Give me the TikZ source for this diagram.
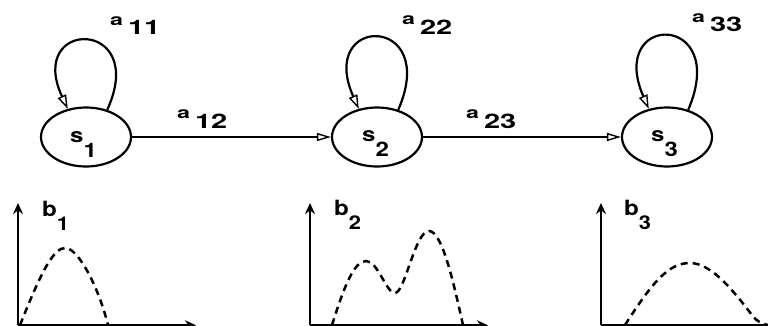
\documentclass[tikz,border=0pt]{standalone}
\usepackage{fontspec}
\setmainfont{TeX Gyre Heros}
\usetikzlibrary{shapes.geometric,arrows.meta}
\newcommand\lbl[7]{\bfseries\scalebox{#6}[1]{\fontsize{#3}{#3}\selectfont #1}\hspace{#7}\raisebox{-#5}{\scalebox{#6}[1]{\fontsize{#4}{#4}\selectfont #2}}}
\newcommand\alab[1]{\lbl{a}{#1}{16}{20}{10pt}{1.45}{5pt}}
\newcommand\slab[1]{\lbl{s}{#1}{20}{20}{15pt}{1.2}{0pt}}
\newcommand\blab[1]{\lbl{b}{#1}{21}{19}{14pt}{1.15}{0pt}}
\tikzset{
  statebox/.style={ellipse, draw, line width=2.2pt, minimum width=90pt, minimum height=59pt, inner sep=0pt},
  txt/.style={anchor=base west, inner sep=0pt},
  trans/.style={line width=1.2pt, -{Triangle[open, length=14pt, width=8pt, line width=1.4pt]}},
  selfloop/.style={line width=2.2pt, -{Triangle[open, length=14pt, width=9pt, line width=1.4pt]}},
  axis/.style={line width=2.2pt, -{Stealth[length=11pt, width=10pt]}},
  density/.style={line width=2.5pt, dash pattern=on 7pt off 5pt}
}
\begin{document}
\begin{tikzpicture}[x=1pt,y=1pt]
\useasboundingbox (0,0) rectangle (768,325);
% states
\node[statebox] (s1) at (86,188) {};
\node[statebox] (s2) at (377,188) {};
\node[statebox] (s3) at (667,188) {};
\node[txt] (t1) at (70,183) {\slab{1}};
\node[txt] (t2) at (362,184) {\slab{2}};
\node[txt] (t3) at (651,184) {\slab{3}};
% self loops
\draw[selfloop] (s1.52) .. controls +(42,92) and +(-42,91) .. (s1.123);
\draw[selfloop] (s2.52) .. controls +(42,96) and +(-42,95) .. (s2.123);
\draw[selfloop] (s3.52) .. controls +(42,98) and +(-42,97) .. (s3.123);
% transitions
\draw[trans] (s1) -- (s2);
\draw[trans] (s2) -- (s3);
% transition labels
\node[txt] (a11) at (110,300) {\alab{11}};
\node[txt] (a12) at (177,207) {\alab{12}};
\node[txt] (a22) at (402,301) {\alab{22}};
\node[txt] (a23) at (466,207) {\alab{23}};
\node[txt] (a33) at (692,303) {\alab{33}};
% axes
\coordinate (o1) at (18,-0.3);  \coordinate (y1) at (18,122);  \coordinate (x1) at (196,-0.3);
\coordinate (o2) at (310,-0.3); \coordinate (y2) at (310,122); \coordinate (x2) at (488,-0.3);
\coordinate (o3) at (601,-0.3); \coordinate (y3) at (601,122); \coordinate (x3) at (780,-0.3);
\draw[axis] (o1) -- (y1);
\draw[axis] (o1) -- (x1);
\draw[axis] (o2) -- (y2);
\draw[axis] (o2) -- (x2);
\draw[axis] (o3) -- (y3);
\draw[axis] (o3) -- (x3);
\node[txt] (b1) at (42,109) {\blab{1}};
\node[txt] (b2) at (334,110) {\blab{2}};
\node[txt] (b3) at (624,110) {\blab{3}};
% densities
\draw[density] (20,0) .. controls (42,55) and (54,78) .. (66,77) .. controls (78,76) and (98,40) .. (108,0);
\draw[density] (332,0) .. controls (344,38) and (354,64) .. (366,64) .. controls (378,64) and (386,32) .. (395,32) .. controls (405,32) and (415,94) .. (429,94) .. controls (443,94) and (455,35) .. (463,0);
\draw[density] (625,0) .. controls (652,42) and (668,62) .. (690,62) .. controls (712,62) and (735,32) .. (752,10) .. controls (756,4) and (762,1) .. (768,0);
\end{tikzpicture}
\end{document}
